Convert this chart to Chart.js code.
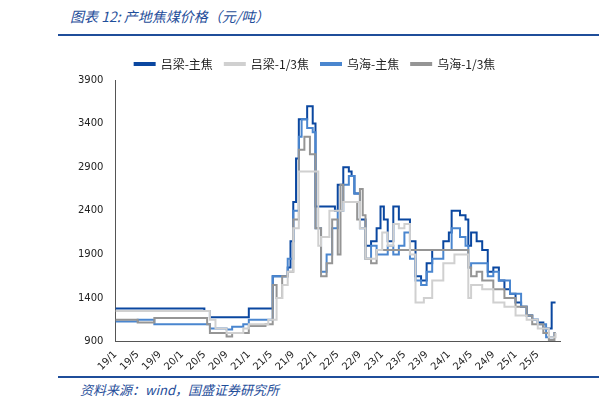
<!DOCTYPE html>
<html>
<head>
<meta charset="utf-8">
<script src="https://cdn.jsdelivr.net/npm/chart.js@4"></script>
<style>
  body { margin: 0; background: #fff; font-family: "Noto Sans CJK SC", sans-serif; }
  #wrap { position: relative; width: 611px; height: 410px; }
  #title { position: absolute; left: 70px; top: 6px; font-size: 14px; font-style: italic; color: #1f4e9a; }
  #topline { position: absolute; left: 58px; top: 34px; width: 541px; height: 2px; background: #1f4e9a; }
  #botline { position: absolute; left: 58px; top: 376px; width: 541px; height: 2px; background: #1f4e9a; }
  #src { position: absolute; left: 80px; top: 380px; font-size: 13px; font-style: italic; color: #1f4e9a; }
  #chartBox { position: absolute; left: 70px; top: 46px; width: 520px; height: 330px; }
</style>
</head>
<body>
<div id="wrap">
  <div id="title">图表 12:  产地焦煤价格（元/吨）</div>
  <div id="topline"></div>
  <div id="chartBox"><canvas id="c" width="520" height="330"></canvas></div>
  <div id="botline"></div>
  <div id="src">资料来源：wind，国盛证券研究所</div>
</div>
<script>
// months since 2019/1, with step values
const seriesNames = ['吕梁-主焦', '吕梁-1/3焦', '乌海-主焦', '乌海-1/3焦'];
const seriesColors = ['#0a47a0', '#d0d0d0', '#4a86cf', '#959595'];

const llMainX = [0,16,17,24,28,28.3,31,31.5,32,32.5,33,34.5,35.5,36,38.5,39.5,40,41,42,42.5,43,44,45,46,47,47.7,48.3,49,50,51,53,54,55,56,57,59,60,60.5,62,63,63.5,64,65,66,67,68,69,70,71,72,73,74,75,76,77,78,78.5,79.2];
const llMainY = [1280,1250,1180,1280,1280,1650,1750,2050,2500,3000,3450,3600,3400,2450,2450,2400,2700,2900,2850,2800,2600,2300,2000,2050,2200,2450,2300,2050,2450,2300,2050,1650,1600,1800,1950,2050,2150,2400,2350,2300,2000,2150,2050,1950,1700,1750,1600,1500,1450,1350,1300,1200,1150,1120,1050,1050,1350,1350];

const ll13X = [0,16,17,18,20,23,24,27.5,29,30,31,32,33,35.5,36.5,37,38.5,41,43,44,45,47,48,49,50,51,52,53,54,55.5,57,59,61,63,63.5,64,66,68,70,72,74,76,78,79.2];
const ll13Y = [1250,1250,1150,1050,1000,1050,1100,1150,1400,1550,1700,2200,2850,2850,2000,2100,2400,2500,2500,2200,1850,1950,2150,2000,2250,2200,2250,1900,1350,1400,1600,1800,1900,1900,1400,1550,1500,1350,1300,1200,1150,1050,950,1000];

const whMainX = [0,4,7,16,17,20,21,23,24,27.5,28.3,31,32,33,33.5,34.5,35.5,36,37,38,39,40,41,42,43,44,45,46,47,49,50,51,52,53,54,55,56,57,59,60.5,62,63,63.5,64,66,67,68,69,71,73,74,75,76,77.5,79,79.2];
const whMainY = [1130,1150,1100,1100,1050,1040,1070,1100,1150,1150,1650,1850,2400,3250,3450,3350,3300,2200,1700,1900,2200,2400,2700,2800,2600,2200,1850,2000,1900,2000,1900,2000,2150,1850,1600,1550,1700,1850,1950,2200,2100,2000,1750,1800,1800,1650,1700,1600,1450,1300,1200,1150,1100,950,1000,1000];

const wh13X = [0,4,7,16,16.5,17,20,21,23,24,27,28.3,29,30,31,32,33,34,35,36,37,38,39,40,40.5,41,43,43.5,44,44.5,45,46,47,63,63.5,64,65,66,68,70,72,74,75,77,78,79,79.2];
const wh13Y = [1150,1120,1170,1170,1100,1000,960,1000,1000,1080,1100,1550,1400,1650,1700,2300,3100,3250,3050,2200,1650,1800,2300,1900,2700,2500,2500,2300,2650,2350,1850,1800,1950,1950,1750,1650,1700,1600,1500,1400,1300,1200,1100,1000,920,1000,1000];

const yTicks = [900, 1400, 1900, 2400, 2900, 3400, 3900];

function pts(xs, ys) { return xs.map((x, i) => ({ x: x, y: ys[i] })); }
const allX = [llMainX, ll13X, whMainX, wh13X];
const allY = [llMainY, ll13Y, whMainY, wh13Y];

// draw order: lighter first so dark blue sits on top
const order = [1, 3, 2, 0];
const datasets = order.map(i => ({
  label: seriesNames[i],
  data: pts(allX[i], allY[i]),
  borderColor: seriesColors[i],
  backgroundColor: seriesColors[i],
  borderWidth: 2,
  pointRadius: 0,
  stepped: true,
  fill: false,
  legendOrder: i,
}));

new Chart(document.getElementById('c'), {
  type: 'line',
  data: { datasets: datasets },
  options: {
    responsive: false,
    animation: false,
    layout: { padding: { right: 30, top: 0 } },
    plugins: {
      legend: {
        position: 'top',
        labels: {
          boxWidth: 20, boxHeight: 2, color: '#222', padding: 12,
          font: { size: 12, family: 'Noto Sans CJK SC' },
          sort: (a, b) => datasets[a.datasetIndex].legendOrder - datasets[b.datasetIndex].legendOrder,
        },
      },
      tooltip: { enabled: false },
    },
    scales: {
      x: {
        type: 'linear', min: 0, max: 80,
        grid: { display: false, drawTicks: true, tickLength: 4, tickColor: '#555' },
        border: { color: '#555' },
        afterBuildTicks: ax => { ax.ticks = []; for (let m = 0; m <= 76; m += 4) ax.ticks.push({ value: m }); },
        ticks: {
          color: '#222', font: { size: 10, family: 'DejaVu Sans' }, maxRotation: 45, minRotation: 45, autoSkip: false,
          callback: v => (19 + Math.floor(v / 12)) + '/' + (v % 12 + 1),
        },
      },
      y: {
        min: 900, max: 3900,
        grid: { display: false, tickLength: 4, tickColor: '#555' },
        border: { color: '#555' },
        afterBuildTicks: ax => { ax.ticks = yTicks.map(v => ({ value: v })); },
        ticks: { color: '#222', font: { size: 10, family: 'DejaVu Sans' }, padding: 8, callback: v => String(v) },
      },
    },
  },
});
</script>
</body>
</html>
